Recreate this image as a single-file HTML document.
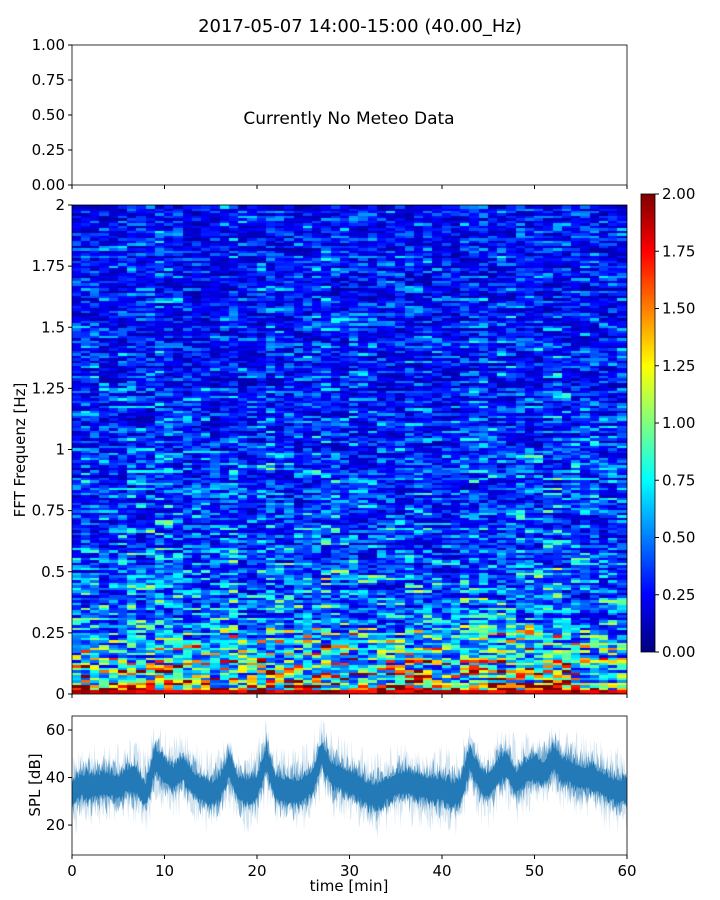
<!DOCTYPE html>
<html><head><meta charset="utf-8">
<style>
body{margin:0;background:#fff;width:720px;height:900px;overflow:hidden;font-family:"Liberation Sans","DejaVu Sans",sans-serif;}
#wrap{position:relative;width:720px;height:900px;}
svg text{font-family:"DejaVu Sans","Liberation Sans",sans-serif;fill:#000;}
canvas{position:absolute;}
</style></head>
<body>
<div id="wrap">
<canvas id="heat" width="555" height="489" style="left:72px;top:205px"></canvas>
<canvas id="cbar" width="14" height="458" style="left:641px;top:194px"></canvas>
<svg id="svg" width="720" height="900" style="position:absolute;left:0;top:0"></svg>
</div>
<script>
// ---- data ----
const specFreqBins = [0.05,0.1,0.15,0.2,0.25,0.3,0.4,0.5,0.6,0.75,1.0,1.25,1.5,1.75,2.0];
const specRowMeans = [1.7,1.3,1.1,0.95,0.85,0.75,0.62,0.58,0.54,0.5,0.46,0.42,0.4,0.38,0.36];
const specColFactor = [1.0,1.05,1.0,1.0,0.95,1.0,1.05,1.0,1.05,1.15,1.1,1.05,1.0,0.95,1.0,0.9,1.0,1.1,1.0,0.95,1.05,1.15,1.0,1.05,1.0,1.05,1.1,1.15,1.05,1.0,1.05,1.0,0.95,0.95,1.0,1.0,1.0,1.0,1.0,1.0,1.0,0.95,1.0,1.1,1.05,1.05,1.1,1.1,1.15,1.1,1.1,1.1,1.15,1.05,1.0,1.0,1.0,0.95,1.0,1.0];
const cbarTicks = ["0.00","0.25","0.50","0.75","1.00","1.25","1.50","1.75","2.00"];
const freqTicks = ["0","0.25","0.5","0.75","1","1.25","1.5","1.75","2"];
const meteoTicks = ["0.00","0.25","0.50","0.75","1.00"];
const timeTicks = [0,10,20,30,40,50,60];
const splTicks = [20,40,60];
const splCenter = [33,37,36,37,37,36,39,38,33,48,42,40,44,38,35,33,36,45,35,35,36,48,36,35,34,35,38,50,42,40,38,36,33,32,35,37,38,37,36,35,35,33,34,48,40,36,42,46,38,42,44,42,48,44,42,40,40,38,36,34,35];

// ---- helpers ----
const NS="http://www.w3.org/2000/svg";
const svg=document.getElementById('svg');
function mk(tag,attrs,name){const e=document.createElementNS(NS,tag);for(const k in attrs)e.setAttribute(k,attrs[k]);


svg.appendChild(e);return e;}
function txt(x,y,s,anchor,size,name,extra){const t=mk('text',Object.assign({x:x,y:y,'text-anchor':anchor,'font-size':size},extra||{}),name);t.textContent=s;return t;}
function hash(a,b){let h=(a*374761393+b*668265263)|0;h=(h^(h>>>13))*1274126177|0;h=h^(h>>>16);return ((h>>>0)%10000)/10000;}
function jet(v){v=Math.max(0,Math.min(1,v));
 const r=Math.max(0,Math.min(1,1.5-Math.abs(4*v-3))),g=Math.max(0,Math.min(1,1.5-Math.abs(4*v-2))),b=Math.max(0,Math.min(1,1.5-Math.abs(4*v-1)));
 return 'rgb('+Math.round(r*255)+','+Math.round(g*255)+','+Math.round(b*255)+')';}

// ---- title ----
txt(360,32,"2017-05-07 14:00-15:00 (40.00_Hz)","middle",18,"chart-title");

// ---- meteo axes ----
const mL=72,mR=627,mT=45,mB=185;
mk('rect',{x:mL,y:mT,width:mR-mL,height:mB-mT,fill:'none',stroke:'#000','stroke-width':0.8},'meteo-axes-frame');
meteoTicks.forEach((s,i)=>{const y=mB-(mB-mT)*i/4;mk('line',{x1:mL-4,x2:mL,y1:y,y2:y,stroke:'#000'},'meteo-y-tick');txt(mL-7,y+5,s,'end',15,'meteo-y-tick-label');});
timeTicks.forEach(t=>{const x=mL+(mR-mL)*t/60;mk('line',{x1:x,x2:x,y1:mB,y2:mB+4,stroke:'#000'},'meteo-x-tick');});
txt(349,124,"Currently No Meteo Data","middle",17,"no-data-message");

// ---- spectrogram ----
const sL=72,sR=627,sT=205,sB=694,nRows=196,nCols=specColFactor.length;
const ctx=document.getElementById('heat').getContext('2d');
function rowMean(f){for(let i=0;i<specFreqBins.length;i++)if(f<=specFreqBins[i])return specRowMeans[i];return specRowMeans[specRowMeans.length-1];}
const cw=(sR-sL)/nCols,rh=(sB-sT)/nRows;
for(let c=0;c<nCols;c++)for(let r=0;r<nRows;r++){
 const f=(r+0.5)/nRows*2;const h=hash(r,c),h2=hash(r+999,Math.floor(c/3));
 const m=0.55*h+0.45*h2;
 let v=rowMean(f)*specColFactor[c]*(0.2+1.9*m*m);
 if(r<2)v=Math.max(v,1.7+0.3*h);
 ctx.fillStyle=jet(v/2);
 ctx.fillRect(Math.floor(c*cw),Math.floor((sB-sT)-(r+1)*rh),Math.ceil(cw)+1,Math.ceil(rh)+1);
}
mk('rect',{x:sL,y:sT,width:sR-sL,height:sB-sT,fill:'none',stroke:'#000','stroke-width':0.8},'spectrogram-axes-frame');
freqTicks.forEach((s,i)=>{const y=sB-(sB-sT)*i/8;mk('line',{x1:sL-4,x2:sL,y1:y,y2:y,stroke:'#000'},'freq-tick');txt(sL-7,y+5,s,'end',15,'freq-tick-label');});
timeTicks.forEach(t=>{const x=sL+(sR-sL)*t/60;mk('line',{x1:x,x2:x,y1:sB,y2:sB+4,stroke:'#000'},'spec-x-tick');});
txt(25,450,"FFT Frequenz [Hz]","middle",15,"freq-axis-title",{transform:"rotate(-90 25 450)"});

// colorbar
const cb=document.getElementById('cbar').getContext('2d');
for(let y=0;y<458;y++){cb.fillStyle=jet(1-y/457);cb.fillRect(0,y,14,1);}
mk('rect',{x:641,y:194,width:14,height:458,fill:'none',stroke:'#000','stroke-width':0.8},'colorbar-frame');
cbarTicks.forEach((s,i)=>{const y=652-458*i/8;mk('line',{x1:655,x2:659,y1:y,y2:y,stroke:'#000'},'colorbar-tick');txt(662,y+5,s,'start',15,'colorbar-tick-label');});

// ---- SPL ----
const pL=72,pR=627,pT=716,pB=855,vMin=7.4,vMax=65.9;
const X=t=>pL+(pR-pL)*t/60, Y=v=>pB-(pB-pT)*(v-vMin)/(vMax-vMin);
function band(w,jit,fill,op,name,seed){let up=[],lo=[];const st=12,n=(splCenter.length-1)*st;
 for(let k=0;k<=n;k++){const t=k/st,i=Math.floor(t),fr=t-i;const c=i<splCenter.length-1?splCenter[i]*(1-fr)+splCenter[i+1]*fr:splCenter[i];
  const a=hash(k,seed),b=hash(k,seed+5);const j1=a*a*jit,j2=b*b*jit;up.push(X(t).toFixed(1)+','+Y(c+w+j1).toFixed(1));lo.unshift(X(t).toFixed(1)+','+Y(c-w-j2).toFixed(1));}
 mk('polygon',{points:up.concat(lo).join(' '),fill:fill,'fill-opacity':op},name);}
band(6,13,'#1f77b4',0.2,'spl-outer-band',7);
band(5,8,'#1f77b4',0.55,'spl-mid-band',11);
band(4,4,'#1f77b4',0.95,'spl-inner-band',13);
mk('rect',{x:pL,y:pT,width:pR-pL,height:pB-pT,fill:'none',stroke:'#000','stroke-width':0.8},'spl-axes-frame');
splTicks.forEach(v=>{const y=Y(v);mk('line',{x1:pL-4,x2:pL,y1:y,y2:y,stroke:'#000'},'spl-y-tick');txt(pL-7,y+5,String(v),'end',15,'spl-y-tick-label');});
timeTicks.forEach(t=>{const x=X(t);mk('line',{x1:x,x2:x,y1:pB,y2:pB+4,stroke:'#000'},'time-tick');txt(x,pB+21,String(t),'middle',15,'time-tick-label');});
txt(349,891,"time [min]","middle",15,"time-axis-title");
txt(40,785,"SPL [dB]","middle",15,"spl-axis-title",{transform:"rotate(-90 40 785)"});
</script>
</body></html>
